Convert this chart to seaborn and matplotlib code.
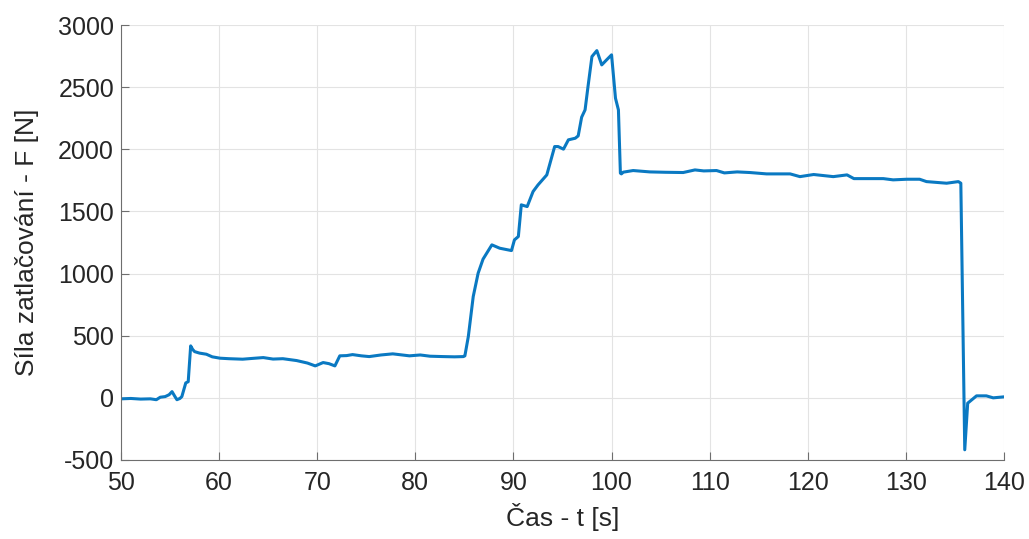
import numpy as np
import pandas as pd
import matplotlib
matplotlib.use("Agg")
import matplotlib.pyplot as plt
import seaborn as sns

# Data
time_s = [50.0, 51.0, 52.0, 53.0, 53.6, 54.0, 54.5, 54.9, 55.2, 55.5, 55.7, 56.0,
          56.2, 56.6, 56.85, 57.1, 57.3, 57.5, 58.0, 58.7, 59.3, 60.1, 61.0, 62.4,
          63.5, 64.5, 65.5, 66.5, 67.9, 69.0, 69.8, 70.6, 71.2, 71.8, 72.3, 73.0,
          73.6, 74.5, 75.3, 76.5, 77.7, 79.4, 80.5, 81.5, 82.8, 84.0, 84.9, 85.05,
          85.4, 85.9, 86.4, 86.9, 87.8, 88.6, 89.8, 90.1, 90.5, 90.8, 91.4, 92.0,
          92.5, 93.4, 94.2, 94.55, 95.1, 95.6, 96.3, 96.6, 96.95, 97.3, 97.6, 98.0,
          98.5, 99.0, 99.5, 100.0, 100.4, 100.7, 100.9, 101.0, 101.2, 102.2, 103.9,
          105.5, 107.3, 108.5, 109.4, 110.7, 111.5, 112.8, 114.1, 115.8, 116.8,
          118.2, 119.2, 120.6, 122.6, 124.0, 124.7, 126.0, 127.7, 128.7, 130.1,
          131.4, 132.1, 134.15, 135.35, 135.6, 136.0, 136.3, 137.2, 138.2, 138.9,
          140.0]
force_N = [-8, -5, -10, -8, -15, 5, 10, 25, 50, 10, -15, -5,
           10, 120, 130, 418, 390, 372, 360, 351, 330, 319, 315, 311,
           318, 324, 312, 315, 300, 280, 257, 284, 275, 257, 338, 340,
           348, 338, 332, 345, 354, 338, 345, 335, 332, 330, 332, 338,
           493, 815, 1003, 1116, 1231, 1204, 1185, 1271, 1298, 1553, 1539, 1660,
           1713, 1794, 2022, 2022, 2001, 2076, 2089, 2108, 2258, 2317, 2505, 2746,
           2794, 2679, 2720, 2760, 2411, 2317, 1808, 1802, 1816, 1829, 1818,
           1815, 1813, 1834, 1826, 1829, 1810, 1818, 1813, 1802, 1802,
           1802, 1780, 1797, 1780, 1794, 1764, 1764, 1764, 1754, 1759,
           1759, 1740, 1727, 1740, 1727, -418, -43, 16, 16, 0,
           8]

x_ticks = [50, 60, 70, 80, 90, 100, 110, 120, 130, 140]
y_ticks = [-500, 0, 500, 1000, 1500, 2000, 2500, 3000]
x_label = "Čas - t [s]"
y_label = "Síla zatlačování - F [N]"

df = pd.DataFrame({"t": time_s, "F": force_N})

sns.set_theme(style="white")
plt.rcParams['font.family'] = ['Liberation Sans', 'DejaVu Sans']

fig = plt.figure(figsize=(10.29, 5.39), dpi=100)
ax = fig.add_axes([0.1176, 0.1466, 0.9757 - 0.1176, 0.9536 - 0.1466])

sns.lineplot(data=df, x="t", y="F", ax=ax, color="#0a79c2", linewidth=2.2,
             estimator=None, sort=False)

ax.set_xlim(50, 140)
ax.set_ylim(-500, 3000)
ax.set_xticks(x_ticks)
ax.set_yticks(y_ticks)
ax.set_xticklabels([str(v) for v in x_ticks])
ax.set_yticklabels([str(v) for v in y_ticks])
ax.grid(True, color="#e3e3e3", linewidth=0.8)
ax.set_axisbelow(True)

for side in ["left", "bottom"]:
    ax.spines[side].set_color("#6e6e6e")
    ax.spines[side].set_linewidth(0.8)
for side in ["top", "right"]:
    ax.spines[side].set_visible(False)

ax.tick_params(axis="both", direction="in", length=6, width=0.8, color="#6e6e6e",
               labelsize=18, labelcolor="#262626",
               top=False, right=False, bottom=True, left=True)
ax.tick_params(axis="x", pad=8)
ax.tick_params(axis="y", pad=5)
ax.set_xlabel(x_label, fontsize=19, color="#262626", labelpad=6)
ax.set_ylabel(y_label, fontsize=19, color="#262626", labelpad=14)

fig.savefig("out.png", dpi=100)
